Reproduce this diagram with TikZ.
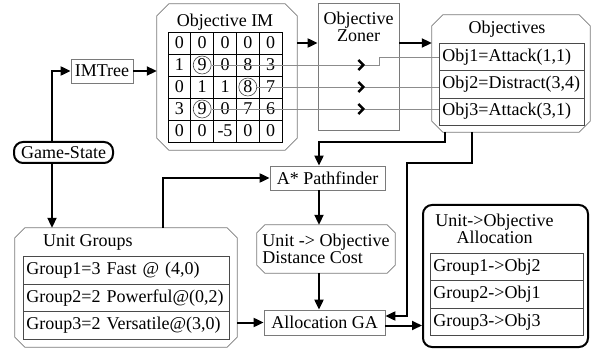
\documentclass[tikz,border=0pt]{standalone}
\usepackage{fontspec}
\setmainfont{Liberation Serif}
\usetikzlibrary{arrows.meta}
\definecolor{BoxGray}{HTML}{7A7A7A}
\definecolor{RuleGray}{HTML}{4A4A4A}
\definecolor{WireGray}{HTML}{8C8C8C}
\newcommand{\octframe}[2]{%
  \draw[octline] ([xshift=#2]#1.north west) -- ([xshift=-#2]#1.north east) -- ([yshift=-#2]#1.north east)
    -- ([yshift=#2]#1.south east) -- ([xshift=-#2]#1.south east) -- ([xshift=#2]#1.south west)
    -- ([yshift=#2]#1.south west) -- ([yshift=-#2]#1.north west) -- cycle;}

\begin{document}
\begin{tikzpicture}[x=1pt,y=-1pt,>={Triangle[length=10pt,width=9pt]},
  every node/.style={font=\fontsize{18}{17}\selectfont,inner sep=0pt},
  box/.style={draw=BoxGray,line width=0.8pt},
  octline/.style={draw=BoxGray,line width=0.8pt},
  thickbox/.style={draw=black,line width=2pt,rounded corners=9pt},
  cell/.style={draw=black,line width=0.8pt,minimum width=22.8pt,minimum height=22pt},
  ring/.style={circle,draw=RuleGray,line width=0.6pt,minimum size=18pt},
  objrow/.style={draw=RuleGray,line width=0.8pt,anchor=north west,text width=139pt,inner xsep=3pt,minimum height=27.3pt,align=left},
  grouprow/.style={draw=RuleGray,line width=0.8pt,anchor=north west,text width=200pt,inner xsep=3pt,minimum height=27.7pt,align=left},
  resrow/.style={draw=RuleGray,line width=0.8pt,anchor=north west,text width=147pt,inner xsep=3pt,minimum height=27.3pt,align=left},
  link/.style={->,line width=2pt},
  wire/.style={draw=WireGray,line width=0.8pt},
  chev/.style={wire,-{Straight Barb[length=5pt,width=10pt,line width=2.4pt,color=black]}}]
  \useasboundingbox (0,0) rectangle (595,350);
  \coordinate (gx) at (52,0);
  \coordinate (ugx) at (163,0);
  \coordinate (vx) at (319,0);
  \coordinate (chx) at (365,0);
  \coordinate (stepx) at (379,0);
  \coordinate (ox1) at (445,0);
  \coordinate (ox2) at (472,0);
  \coordinate (rin) at (407,316);

  \node[thickbox,minimum width=99pt,minimum height=21pt] (gs) at (63.5,152.5) {Game-State};
  \node[box,minimum width=62pt,minimum height=24pt] (imtree) at (102,71) {IMTree};

  \node[minimum width=140pt,minimum height=146pt] (imoct) at (227,77) {};
  \octframe{imoct}{12pt}
  \node (imtitle) at (225,22) {Objective IM};
  \foreach \r/\vals in {1/{0,0,0,0,0},2/{1,9,0,8,3},3/{0,1,1,8,7},4/{3,9,0,7,6},5/{0,0,-5,0,0}}{
    \foreach \v [count=\c] in \vals{
      \node[cell] (c\r\c) at ({168+22.8*(\c-0.5)},{32+22*(\r-0.5)}) {\v};
    }
  }
  \node[ring] (o22) at (c22) {};
  \node[ring] (o34) at (c34) {};
  \node[ring] (o42) at (c42) {};

  \node[box,minimum width=81pt,minimum height=127pt] (zoner) at (358.5,66.5) {};
  \node[align=center] (zonerlbl) at (358.5,27) {Objective\\Zoner};

  \node[minimum width=158pt,minimum height=117pt] (objs) at (511,73.5) {};
  \octframe{objs}{11pt}
  \node (objtitle) at (507,29) {Objectives};
  \node[objrow] (obj1) at (439,43) {Obj1=Attack(1,1)};
  \node[objrow] (obj2) at (439,70.3) {Obj2=Distract(3,4)};
  \node[objrow] (obj3) at (439,97.6) {Obj3=Attack(3,1)};

  \node[minimum width=222pt,minimum height=119pt] (ug) at (126,287.5) {};
  \octframe{ug}{10pt}
  \node[anchor=west] (ugtitle) at (43,242) {Unit Groups};
  \node[grouprow] (grp1) at (23,256) {Group1=3 Fast @ (4,0)};
  \node[grouprow] (grp2) at (23,283.7) {Group2=2 Powerful@(0,2)};
  \node[grouprow] (grp3) at (23,311.3) {Group3=2 Versatile@(3,0)};

  \node[box,minimum width=115pt,minimum height=24pt] (astar) at (327.5,178) {A* Pathfinder};
  \node[minimum width=138pt,minimum height=48pt,align=left] (dist) at (326,249) {Unit -> Objective\\Distance Cost};
  \octframe{dist}{8pt}
  \node[box,minimum width=121pt,minimum height=25pt] (alloc) at (324.5,322.5) {Allocation GA};

  \node[thickbox,minimum width=165pt,minimum height=142pt] (res) at (505.5,276) {};
  \node[align=center] (restitle) at (494.5,228.5) {Unit->Objective\\Allocation};
  \node[resrow] (res1) at (430,253) {Group1->Obj2};
  \node[resrow] (res2) at (430,280.3) {Group2->Obj1};
  \node[resrow] (res3) at (430,307.7) {Group3->Obj3};

  \draw[link] (gs.north -| gx) |- (imtree.west);
  \draw[link] (imtree.east) -- (imtree.east -| imoct.west);
  \draw[link] (imoct.east |- c15) -- (zoner.west |- c15);
  \draw[link] (zoner.east |- c15) -- (objs.west |- c15);
  \draw[chev] (o22.east) -- (o22 -| chx);
  \draw[wire] (o22 -| chx) -- (o22 -| stepx) |- (obj1.west);
  \draw[chev] (o34.east) -- (o34 -| chx);
  \draw[wire] (o34 -| chx) -- (o34 -| obj2.west);
  \draw[chev] (o42.east) -- (o42 -| chx);
  \draw[wire] (o42 -| chx) -- (o42 -| obj3.west);
  \draw[link] (gs.south -| gx) -- (ug.north -| gx);
  \draw[link] (ug.north -| ugx) |- (astar.west);
  \draw[link] (objs.south -| ox1) -- ++(0,10) -| (astar.north -| vx);
  \draw[link] (objs.south -| ox2) -- ++(0,31) -| (rin) -- (rin -| alloc.east);
  \draw[link] (astar.south -| vx) -- (dist.north -| vx);
  \draw[link] (dist.south -| vx) -- (alloc.north -| vx);
  \draw[link] (alloc.west -| ug.east) -- (alloc.west);
  \draw[link] ([yshift=-3pt]alloc.east) -- ([yshift=-3pt]alloc.east -| res.west);
\end{tikzpicture}
\end{document}
